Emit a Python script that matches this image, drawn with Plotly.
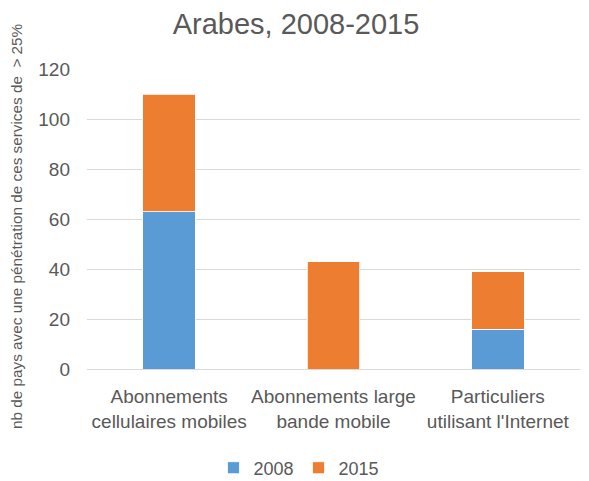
import plotly.graph_objects as go

categories = ["Abonnements<br>cellulaires mobiles", "Abonnements large<br>bande mobile", "Particuliers<br>utilisant l'Internet"]
values_2008 = [63, 0, 16]
values_2015 = [47, 43, 23]
y_ticks = [0, 20, 40, 60, 80, 100, 120]
y_title = "nb de pays avec une pénétration de ces services de  > 25%"

font_family = "Liberation Sans, Arial"
grey = "#595959"

fig = go.Figure()
fig.add_trace(go.Bar(name="2008", x=categories, y=values_2008, marker=dict(color="#5B9BD5", line=dict(color="white", width=0.8))))
fig.add_trace(go.Bar(name="2015", x=categories, y=values_2015, marker=dict(color="#ED7D31", line=dict(color="white", width=0.8))))

fig.update_layout(
    barmode="stack",
    bargap=0.68,
    width=589, height=481,
    margin=dict(l=79, r=17, t=61, b=120, autoexpand=False),
    paper_bgcolor="white", plot_bgcolor="white",
    font=dict(family=font_family, color=grey, size=19),
    title=dict(text="Arabes, 2008-2015", x=0.489, xanchor="center", y=0.967, yanchor="middle",
               font=dict(size=29, color=grey, family=font_family)),
    legend=dict(orientation="h", x=0.43, xanchor="center", y=-0.33, yanchor="middle",
                font=dict(size=18, color=grey), traceorder="normal", itemwidth=30),
    xaxis=dict(showgrid=False, showline=False, ticks="", tickfont=dict(size=19, color=grey),
               ticklabelstandoff=14),
    yaxis=dict(range=[0, 120], tickvals=y_ticks, showgrid=True, gridcolor="#D9D9D9", gridwidth=1,
               zeroline=True, zerolinecolor="#D9D9D9", zerolinewidth=1,
               tickfont=dict(size=19, color=grey), ticks="", ticklabelstandoff=16),
    annotations=[dict(text=y_title, textangle=-90, xref="paper", yref="paper",
                      x=-0.143, y=0.475, xanchor="center", yanchor="middle", showarrow=False,
                      borderpad=0,
                      font=dict(size=15.3, color=grey, family=font_family))],
)

fig.write_html("out.html")
